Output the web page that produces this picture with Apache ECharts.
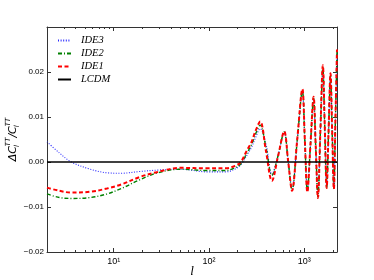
<!DOCTYPE html>
<html><head><meta charset="utf-8">
<script src="https://cdn.jsdelivr.net/npm/echarts@6/dist/echarts.min.js"></script>
<style>html,body{margin:0;padding:0;background:#fff}#c{width:374px;height:280px}</style>
</head><body><div id="c"></div>
<script>
// multipole l
const ell = [2, 2.7, 3.6, 5.7, 8.5, 12, 19, 29, 50, 96, 150, 190, 216, 250, 280, 305, 344, 396, 457, 530, 615, 676, 743, 841, 953, 1012, 1075, 1159, 1250, 1317, 1387, 1472, 1563, 1637, 1714, 1795, 1880, 1958, 2039, 2118, 2200];
const ide1 = [-0.0057, -0.0064, -0.0068, -0.0066, -0.0059, -0.0050, -0.0033, -0.0022, -0.0013, -0.0014, -0.0014, -0.0008, 0.0000, 0.0026, 0.0045, 0.0067, 0.0090, 0.0024, -0.0042, 0.0013, 0.0068, 0.0002, -0.0064, 0.0049, 0.0162, 0.0048, -0.0067, 0.0039, 0.0145, 0.0033, -0.0080, 0.0068, 0.0215, 0.0079, -0.0058, 0.0070, 0.0197, 0.0069, -0.0060, 0.0095, 0.0250];
const ide2 = [-0.0071, -0.0079, -0.0081, -0.0079, -0.0071, -0.0059, -0.0039, -0.0024, -0.0016, -0.0019, -0.0019, -0.0012, -0.0004, 0.0020, 0.0039, 0.0060, 0.0082, 0.0032, -0.0030, 0.0014, 0.0067, 0.0002, -0.0062, 0.0047, 0.0158, 0.0047, -0.0065, 0.0038, 0.0142, 0.0032, -0.0078, 0.0066, 0.0210, 0.0076, -0.0057, 0.0068, 0.0193, 0.0067, -0.0059, 0.0093, 0.0245];
const ide3 = [0.0045, 0.0020, 0.0000, -0.0016, -0.0024, -0.0025, -0.0021, -0.0018, -0.0016, -0.0022, -0.0022, -0.0015, -0.0006, 0.0015, 0.0033, 0.0052, 0.0074, 0.0040, -0.0027, 0.0015, 0.0066, 0.0003, -0.0060, 0.0046, 0.0155, 0.0046, -0.0063, 0.0037, 0.0140, 0.0031, -0.0076, 0.0064, 0.0205, 0.0074, -0.0055, 0.0066, 0.0190, 0.0066, -0.0057, 0.0090, 0.0240];
const lcdmEll = [2, 2200];
const lcdm = [0, 0];
const xMajorTicks = [10, 100, 1000];
const xMinorTicks = [3, 4, 5, 6, 7, 8, 9, 20, 30, 40, 50, 60, 70, 80, 90, 200, 300, 400, 500, 600, 700, 800, 900, 2000];
const yTickLabels = ['\u22120.02', '\u22120.01', '0.00', '0.01', '0.02'];

const sup = {1: '\u00B9', 2: '\u00B2', 3: '\u00B3'};
const pair = (xs, ys) => xs.map((x, i) => [x, ys[i]]);
const axisColor = '#333';
const minorLog = xMinorTicks.map(v => Math.log10(v));
const X0 = 2, X1 = 2200;

const logAxis = (pos, labels) => ({
  type: 'log', logBase: 10, min: X0, max: X1, position: pos,
  axisLine: {show: true, onZero: false, lineStyle: {color: axisColor, width: 1}},
  axisTick: {show: true, inside: true, length: 4, lineStyle: {color: axisColor}},
  axisLabel: {show: labels, fontSize: 9, margin: 5, color: '#000', fontFamily: 'Liberation Sans',
    formatter: v => {
      const e = Math.round(Math.log10(v));
      if (Math.abs(Math.log10(v) - e) < 1e-6 && xMajorTicks.indexOf(Math.pow(10, e)) >= 0) return '10' + sup[e];
      return '';
    }},
  splitLine: {show: false}, minorTick: {show: false}
});
const minorAxis = (pos) => ({
  type: 'value', min: Math.log10(X0), max: Math.log10(X1), position: pos,
  axisLine: {show: false, onZero: false}, axisLabel: {show: false}, splitLine: {show: false},
  axisTick: {show: true, inside: true, length: 2, customValues: minorLog, lineStyle: {color: axisColor}}
});
const yAx = (pos, labels) => ({
  type: 'value', min: -0.02, max: 0.03, interval: 0.01, position: pos,
  axisLine: {show: true, onZero: false, lineStyle: {color: axisColor, width: 1}},
  axisTick: {show: true, inside: true, length: 4, lineStyle: {color: axisColor}},
  axisLabel: {show: labels, fontSize: 8, margin: 3, color: '#000', fontFamily: 'Liberation Sans',
    formatter: v => {
      const i = Math.round(v * 100) + 2;
      return (i >= 0 && i < yTickLabels.length) ? yTickLabels[i] : '';
    }},
  splitLine: {show: false}
});

const xa0 = logAxis('bottom', true);
xa0.name = 'l';
xa0.nameLocation = 'middle';
xa0.nameGap = 13;
xa0.nameMoveOverlap = false;
xa0.nameTextStyle = {fontFamily: 'Liberation Serif', fontStyle: 'italic', fontSize: 13, color: '#000'};
const ya0 = yAx('left', true);
ya0.name = '{m|\u0394C}{b|l}{t|TT}{m|/C}{b|l}{t|TT}';
ya0.nameLocation = 'middle';
ya0.nameGap = 26;
ya0.nameMoveOverlap = false;
ya0.nameTextStyle = {
  color: '#000',
  rich: {
    m: {fontFamily: 'DejaVu Sans', fontStyle: 'italic', fontSize: 11, lineHeight: 16, verticalAlign: 'middle'},
    b: {fontFamily: 'DejaVu Sans', fontStyle: 'italic', fontSize: 7, lineHeight: 16, verticalAlign: 'bottom', width: 0},
    t: {fontFamily: 'DejaVu Sans', fontStyle: 'italic', fontSize: 7, lineHeight: 16, verticalAlign: 'top'}
  }
};

const line = (name, data, color, width, dash, z) => ({
  name, type: 'line', data, symbol: 'none', smooth: 0.35, z,
  xAxisIndex: 0, yAxisIndex: 0,
  lineStyle: {color, width, type: dash}, itemStyle: {color}
});

const chart = echarts.init(document.getElementById('c'), null, {renderer: 'canvas'});
chart.setOption({
  animation: false,
  backgroundColor: '#fff',
  grid: {left: 47, right: 37, top: 27, bottom: 28, containLabel: false, outerBoundsMode: 'none'},
  legend: {
    data: ['IDE3', 'IDE2', 'IDE1', 'LCDM'], orient: 'vertical', left: 52, top: 30,
    itemWidth: 13, itemHeight: 8, itemGap: 2,
    itemStyle: {opacity: 0},
    textStyle: {fontFamily: 'Liberation Serif', fontStyle: 'italic', fontSize: 10.5, color: '#000', padding: [0, 0, 0, 5]}
  },
  xAxis: [xa0, logAxis('top', false), minorAxis('bottom'), minorAxis('top')],
  yAxis: [ya0, yAx('right', false)],
  series: [
    line('IDE3', pair(ell, ide3), '#2a2aff', 1.1, [1, 1.6], 3),
    line('IDE2', pair(ell, ide2), '#008000', 1.4, [4, 2, 1, 2], 4),
    line('IDE1', pair(ell, ide1), '#ff0000', 2, [4, 2.5], 5),
    {name: 'LCDM', type: 'line', data: pair(lcdmEll, lcdm), symbol: 'none', z: 6,
     lineStyle: {color: '#000', width: 1.5, type: 'solid'}, itemStyle: {color: '#000'}}
  ]
});
</script></body></html>
